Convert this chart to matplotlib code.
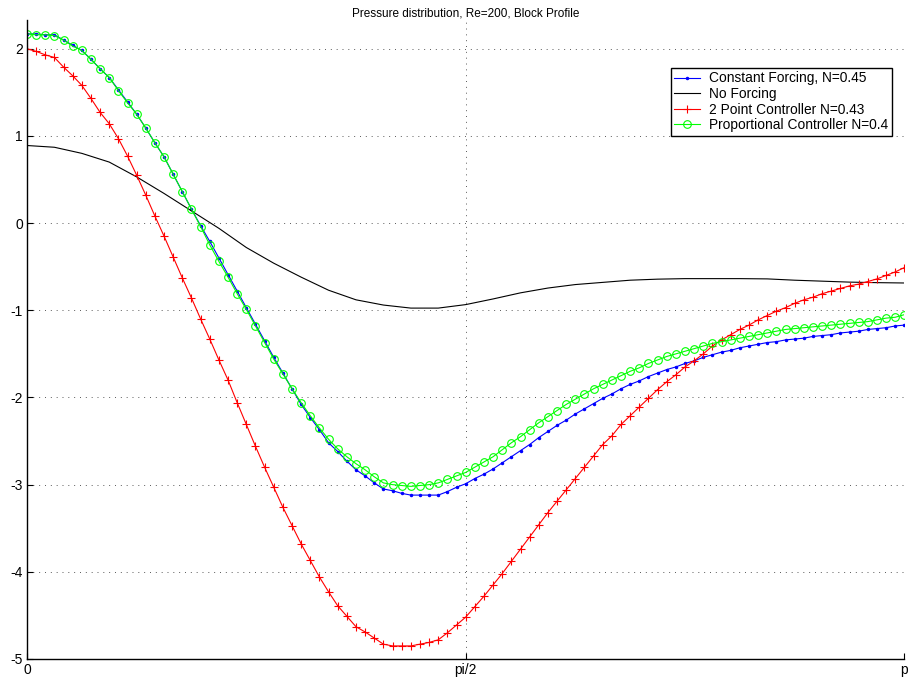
import numpy as np
import matplotlib.pyplot as plt

plt.rcParams['font.family'] = ['Liberation Sans', 'DejaVu Sans']
plt.rcParams['axes.unicode_minus'] = False

# surface pressure samples, 97 stations from 0 to pi
constant_forcing = [
    2.17, 2.17, 2.16, 2.16, 2.10, 2.04, 1.98, 1.88, 1.77, 1.67,
    1.53, 1.39, 1.25, 1.09, 0.92, 0.76, 0.56, 0.36, 0.16, -0.03,
    -0.21, -0.40, -0.59, -0.78, -0.97, -1.16, -1.35, -1.54, -1.72, -1.90,
    -2.08, -2.23, -2.37, -2.52, -2.62, -2.73, -2.83, -2.90, -2.98, -3.05,
    -3.07, -3.10, -3.12, -3.12, -3.12, -3.12, -3.08, -3.03, -2.99, -2.93,
    -2.88, -2.82, -2.75, -2.68, -2.61, -2.54, -2.46, -2.39, -2.32, -2.26,
    -2.19, -2.13, -2.07, -2.01, -1.96, -1.90, -1.85, -1.81, -1.76, -1.72,
    -1.68, -1.65, -1.61, -1.58, -1.54, -1.51, -1.48, -1.46, -1.43, -1.41,
    -1.39, -1.37, -1.36, -1.34, -1.33, -1.32, -1.30, -1.29, -1.28, -1.26,
    -1.25, -1.24, -1.22, -1.21, -1.20, -1.18, -1.17,
]

two_point = [
    2.00, 1.97, 1.93, 1.90, 1.79, 1.69, 1.58, 1.43, 1.27, 1.14,
    0.97, 0.77, 0.55, 0.32, 0.08, -0.15, -0.39, -0.63, -0.86, -1.10,
    -1.33, -1.57, -1.80, -2.06, -2.31, -2.56, -2.80, -3.03, -3.26, -3.47,
    -3.68, -3.87, -4.06, -4.23, -4.39, -4.51, -4.63, -4.69, -4.76, -4.83,
    -4.85, -4.85, -4.85, -4.83, -4.81, -4.78, -4.70, -4.61, -4.52, -4.40,
    -4.28, -4.15, -4.02, -3.88, -3.74, -3.60, -3.46, -3.32, -3.19, -3.06,
    -2.93, -2.80, -2.67, -2.54, -2.44, -2.31, -2.21, -2.11, -2.01, -1.91,
    -1.82, -1.74, -1.65, -1.58, -1.50, -1.41, -1.34, -1.28, -1.22, -1.17,
    -1.11, -1.06, -1.01, -0.97, -0.92, -0.88, -0.85, -0.81, -0.78, -0.75,
    -0.72, -0.70, -0.67, -0.64, -0.60, -0.56, -0.51,
]

proportional = [
    2.17, 2.16, 2.16, 2.15, 2.10, 2.03, 1.98, 1.88, 1.77, 1.67,
    1.52, 1.38, 1.25, 1.09, 0.92, 0.76, 0.56, 0.36, 0.16, -0.04,
    -0.25, -0.44, -0.62, -0.81, -0.99, -1.18, -1.37, -1.56, -1.73, -1.90,
    -2.06, -2.21, -2.35, -2.48, -2.59, -2.68, -2.76, -2.83, -2.91, -2.98,
    -3.00, -3.01, -3.02, -3.01, -3.00, -2.98, -2.94, -2.90, -2.86, -2.80,
    -2.74, -2.68, -2.60, -2.52, -2.45, -2.37, -2.29, -2.22, -2.15, -2.08,
    -2.02, -1.96, -1.90, -1.85, -1.80, -1.75, -1.70, -1.66, -1.61, -1.57,
    -1.53, -1.50, -1.47, -1.44, -1.41, -1.38, -1.36, -1.34, -1.32, -1.30,
    -1.28, -1.26, -1.24, -1.22, -1.21, -1.20, -1.19, -1.18, -1.17, -1.16,
    -1.15, -1.14, -1.13, -1.11, -1.09, -1.08, -1.05,
]

# unforced case, coarser grid (33 stations)
no_forcing = [
    0.89, 0.87, 0.80, 0.70, 0.53, 0.34, 0.14, -0.06, -0.28, -0.46,
    -0.62, -0.77, -0.88, -0.94, -0.975, -0.975, -0.935, -0.87, -0.80, -0.745,
    -0.705, -0.68, -0.655, -0.643, -0.637, -0.637, -0.637, -0.64, -0.655, -0.666,
    -0.677, -0.683, -0.687,
]

theta = np.linspace(0, np.pi, len(proportional))
theta_coarse = np.linspace(0, np.pi, len(no_forcing))

fig = plt.figure(figsize=(9.08, 6.77), dpi=100)
ax = fig.add_axes([0.0297, 0.0266, 0.9663, 0.9439])

ax.plot(theta, constant_forcing, color='b', marker='.', markersize=3, linewidth=0.8,
        label='Constant Forcing, N=0.45')
ax.plot(theta_coarse, no_forcing, color='k', linewidth=0.8, label='No Forcing')
ax.plot(theta, two_point, color='r', marker='+', markersize=6, markeredgewidth=0.8,
        linewidth=0.8, label='2 Point Controller N=0.43')
ax.plot(theta, proportional, color=(0, 1, 0), marker='o', markersize=5.5,
        markerfacecolor='none', markeredgewidth=0.8, linewidth=0.8,
        label='Proportional Controller N=0.4')

ax.set_xlim(0, np.pi)
ax.set_ylim(-5, 2.33)
ax.set_xticks([0, np.pi / 2, np.pi])
ax.set_xticklabels(['0', 'pi/2', 'p'])
ax.set_yticks(range(-5, 3))

ax.grid(True, color='0.35', linestyle=(0, (1, 5)), linewidth=0.7)
for side in ['top', 'right']:
    ax.spines[side].set_visible(False)
for side in ['left', 'bottom']:
    ax.spines[side].set_linewidth(1.0)
ax.tick_params(direction='in', length=4, width=0.8, labelsize=10, pad=3)

ax.set_title('Pressure distribution, Re=200, Block Profile', fontsize=8.5, pad=2)

leg = ax.legend(loc='upper right', bbox_to_anchor=(0.9855, 0.925), fontsize=9.9,
                fancybox=False, framealpha=1, edgecolor='k', borderpad=0.25,
                labelspacing=0.12, handlelength=1.9, handletextpad=0.63,
                borderaxespad=0)
leg.get_frame().set_linewidth(1.0)

fig.savefig('out.png', dpi=100)
